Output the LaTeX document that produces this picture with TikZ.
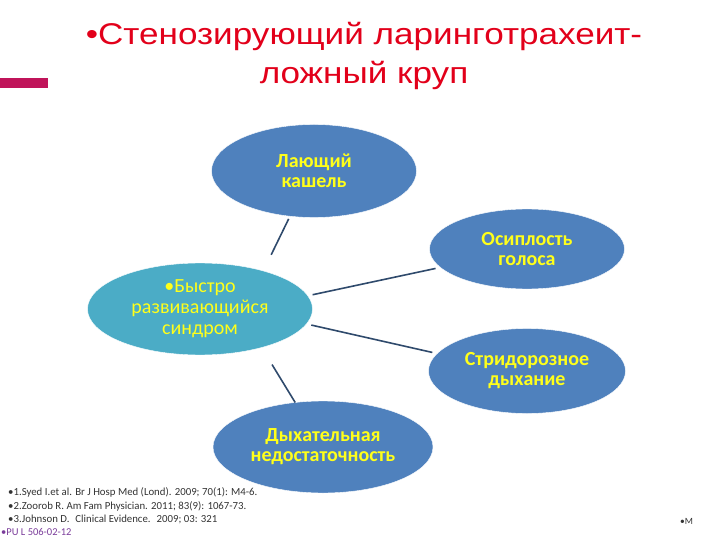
\documentclass[tikz,border=0pt]{standalone}
\usepackage{fontspec}
\setmainfont{Carlito}
\newfontfamily\arialfont[FakeStretch=1.17]{Liberation Sans}
\usetikzlibrary{shapes.geometric}

\definecolor{bubbleblue}{HTML}{4F81BD}
\definecolor{bubbleteal}{HTML}{4BACC6}
\definecolor{bubbletext}{HTML}{FFFF1A}
\definecolor{titlered}{HTML}{E2001A}
\definecolor{barpink}{HTML}{C0145A}
\definecolor{linkblue}{HTML}{2F4A6C}
\definecolor{codepurple}{HTML}{7A3C9A}

\begin{document}
\begin{tikzpicture}[x=1pt, y=-1pt,
                    main node/.style={ellipse,fill=bubbleblue,draw=white,thin,inner sep=0pt,outer sep=0pt,
                                      align=center,text=bubbletext,font=\fontsize{20}{20}\selectfont\bfseries},
                    link/.style={draw=linkblue,line width=1.6pt},
                    ref/.style={anchor=west,inner sep=0pt,font=\fontsize{10.8}{12}\selectfont,text=black!80}]

  \useasboundingbox (0,0) rectangle (720,540);

  % title
  \node[font=\arialfont\fontsize{30}{39}\selectfont,text=titlered,align=center] (title) at (364,56)
    {•Стенозирующий ларинготрахеит-\\ложный круп};
  \fill[barpink] (0,78) rectangle (48,88);

  % bubbles
  \node[main node,minimum width=205,minimum height=93] (1) at (314,171) {Лающий\\кашель};
  \node[main node,fill=bubbleteal,minimum width=225,minimum height=92,
        font=\fontsize{20}{21}\selectfont] (2) at (200,309) {•Быстро\\развивающийся\\синдром};
  \node[main node,minimum width=195,minimum height=80] (3) at (527,249) {Осиплость\\голоса};
  \node[main node,minimum width=197,minimum height=85] (4) at (527,371) {Стридорозное\\дыхание};
  \node[main node,minimum width=220,minimum height=92] (5) at (323,447) {Дыхательная\\недостаточность};

\path
    (1.242) edge [link, shorten <=3pt, shorten >=18pt] (2.31)
    (2.7)   edge [link, shorten <=5pt, shorten >=5pt]  (3.192)
    (2.352) edge [link, shorten <=5pt, shorten >=5pt]  (4.169)
    (2.328) edge [link, shorten <=20pt]                (5.122);

  % references
  \node[ref] (r1) at (8,492) {•1.Syed I.et al. Br J Hosp Med (Lond). 2009; 70(1): M4-6.};
  \node[ref] (r2) at (8,506) {•2.Zoorob R. Am Fam Physician. 2011; 83(9): 1067-73.};
  \node[ref] (r3) at (8,519) {•3.Johnson D.\hspace{6pt}Clinical Evidence.\hspace{6pt}2009; 03: 321};
  \node[ref,text=codepurple,font=\fontsize{10.5}{11}\selectfont] (r4) at (1,532) {•PU L 506-02-12};
  \node[ref,font=\fontsize{9.5}{10}\selectfont] (m) at (680,521) {•M};

\end{tikzpicture}
\end{document}
